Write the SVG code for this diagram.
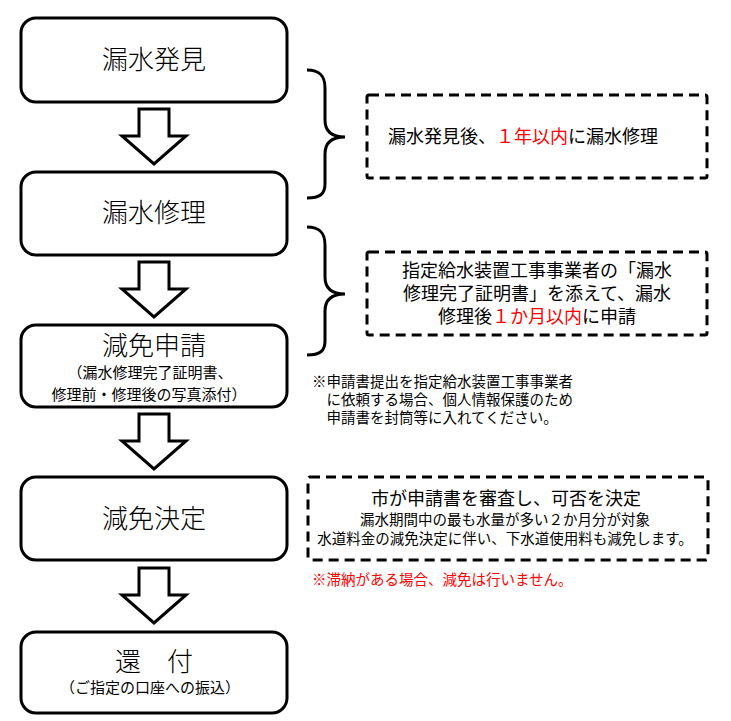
<svg xmlns="http://www.w3.org/2000/svg" width="731" height="721" viewBox="0 0 731 721">
<style>
text{font-family:"Noto Sans CJK JP","Noto Sans CJK SC",sans-serif;fill:#000}
.box{fill:#fff;stroke:#000;stroke-width:3}
.big{font-size:26px;text-anchor:middle;font-weight:300}
.sub{font-size:15px;text-anchor:middle}
.arrow{fill:#fff;stroke:#000;stroke-width:3;stroke-linejoin:miter}
.brace{fill:none;stroke:#000;stroke-width:3}
.dash{fill:#fff;stroke:#000;stroke-width:3;stroke-dasharray:10 6}
.t18{font-size:18px}
.t14{font-size:14.5px}
.red{fill:#f00}
</style>
<defs>
<path id="arr" class="arrow" d="M-15,0 H15 V27 H32 L0,55 L-32,27 H-15 Z"/>
<path id="br" class="brace" d="M307,0 C320,0 325,6 325,18 L325,50 C325,61 331,67 345,67 C331,67 325,73 325,84 L325,114 C325,124 320,128 307,128"/>
</defs>
<rect width="731" height="721" fill="#fff"/>
<g id="connectors">
<use href="#arr" x="154" y="109"/>
<use href="#arr" x="154" y="262"/>
<use href="#arr" x="154" y="414"/>
<use href="#arr" x="154" y="568"/>
<use href="#br" y="70"/>
<use href="#br" y="227"/>
</g>
<g id="n1">
<rect class="box" x="21" y="18" width="266" height="84" rx="15"/>
<text class="big" x="154" y="69">漏水発見</text>
</g>
<g id="n2">
<rect class="box" x="21" y="172" width="266" height="83" rx="15"/>
<text class="big" x="154" y="222">漏水修理</text>
</g>
<g id="n3">
<rect class="box" x="21" y="325" width="266" height="82" rx="15"/>
<text class="big" x="154" y="355">減免申請</text>
<text class="sub"><tspan x="150" y="378">（漏水修理完了証明書、</tspan><tspan x="149" y="400">修理前・修理後の写真添付）</tspan></text>
</g>
<g id="n4">
<rect class="box" x="21" y="477" width="266" height="83" rx="15"/>
<text class="big" x="154" y="528">減免決定</text>
</g>
<g id="n5">
<rect class="box" x="21" y="632" width="266" height="81" rx="15"/>
<text class="big" x="154" y="671">還　付</text>
<text class="sub" x="150" y="693">（ご指定の口座への振込）</text>
</g>
<g id="note1">
<rect class="dash" x="367" y="95" width="340" height="83" rx="2"/>
<text class="t18" x="388" y="143">漏水発見後、<tspan class="red">１年以内</tspan>に漏水修理</text>
</g>
<g id="note2">
<rect class="dash" x="367" y="252" width="340" height="83" rx="2"/>
<text class="t18" text-anchor="middle"><tspan x="537" y="277">指定給水装置工事事業者の「漏水</tspan><tspan x="537" y="300">修理完了証明書」を添えて、漏水</tspan><tspan x="537" y="323">修理後<tspan class="red">１か月以内</tspan>に申請</tspan></text>
</g>
<g id="note3">
<text class="t14"><tspan x="312" y="387">※申請書提出を指定給水装置工事事業者</tspan><tspan x="312" y="405">　に依頼する場合、個人情報保護のため</tspan><tspan x="312" y="423">　申請書を封筒等に入れてください。</tspan></text>
</g>
<g id="note4">
<rect class="dash" x="308" y="477" width="400" height="83" rx="2"/>
<text class="t18" x="506" y="505" text-anchor="middle">市が申請書を審査し、可否を決定</text>
<text class="t14" text-anchor="middle"><tspan x="505" y="525">漏水期間中の最も水量が多い２か月分が対象</tspan><tspan x="505" y="544">水道料金の減免決定に伴い、下水道使用料も減免します。</tspan></text>
</g>
<g id="note5">
<text class="t14 red" x="312" y="585">※滞納がある場合、減免は行いません。</text>
</g>
</svg>
